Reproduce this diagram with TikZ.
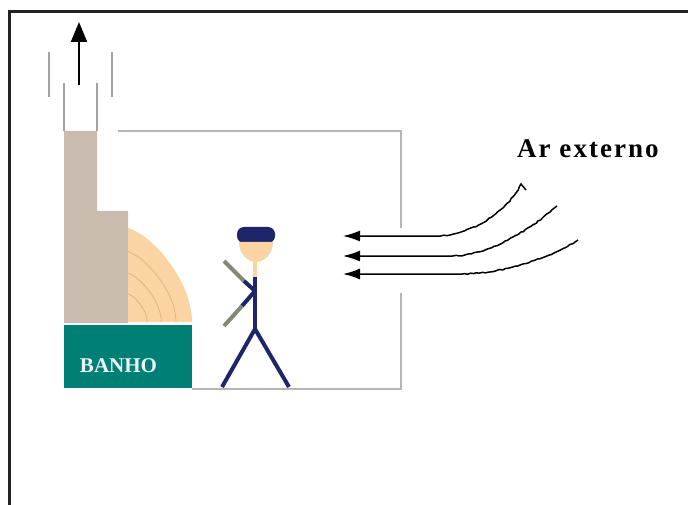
\documentclass[tikz,border=0pt]{standalone}
\usepackage{fontspec}
\setmainfont{Liberation Serif}
\newfontfamily\widefont[LetterSpace=7.5]{Liberation Serif}
\usetikzlibrary{arrows.meta,decorations.pathmorphing}

\definecolor{framec}{RGB}{35,35,35}
\definecolor{wallc}{RGB}{201,188,175}
\definecolor{firec}{RGB}{250,212,162}
\definecolor{firearc}{RGB}{228,178,120}
\definecolor{bathc}{RGB}{0,128,116}
\definecolor{navyc}{RGB}{30,38,105}
\definecolor{armc}{RGB}{128,138,118}
\definecolor{linec}{RGB}{185,180,178}

\tikzset{
  framestroke/.style={draw=framec, line width=3},
  thinline/.style={draw=linec, line width=1.3},
  chimline/.style={draw=linec!90!black, line width=1.5},
  limb/.style={line width=4},
  airflow/.style={draw=black, line width=1.5, -{Latex[length=17pt,width=11pt]}},
  jag/.style={decoration={random steps, segment length=3, amplitude=0.6}},
}

\begin{document}
\begin{tikzpicture}[x=1pt, y=-1pt]
\useasboundingbox (0,0) rectangle (688,505);
\fill[white] (0,0) rectangle (688,505);

% outer frame (top and left edges)
\draw[framestroke] (9,505) -- (9,12) -- (688,12);

% chimney outline and rising smoke arrow
\draw[chimline] (49,52) -- (49,97);
\draw[chimline] (112,52) -- (112,97);
\draw[chimline] (64,83) -- (64,131);
\draw[chimline] (97,83) -- (97,131);
\coordinate (smokeS) at (79,85);
\coordinate (smokeE) at (79,22);
\draw[line width=2, -{Triangle[length=20pt,width=16pt]}] (smokeS) -- (smokeE);

% masonry stove body
\fill[wallc] (64,131) -- (97,131) -- (97,211) -- (128,211) -- (128,323) -- (64,323) -- cycle;

% fire / heat zone
\fill[firec] (128,228) .. controls (154,236) and (192,282) .. (192,322) -- (128,322) -- cycle;
\foreach \s in {0.75,0.52,0.3}{
  \draw[firearc, line width=0.7] (128,{322-94*\s}) .. controls ({128+24*\s},{322-86*\s}) and ({128+64*\s},{322-40*\s}) .. ({128+64*\s},322);
}

% bath
\fill[bathc] (64,325) rectangle (192,388);
\node[text=white!92!bathc, font=\fontsize{21}{25}\selectfont\bfseries, anchor=base, inner sep=0] (banho) at (118.5,372) {BANHO};

% room walls
\draw[thinline] (118,131) -- (401,131) -- (401,228);
\draw[thinline] (401,293) -- (401,389) -- (192,389);

% person
\fill[navyc, rounded corners=7] (237,227) rectangle (275,243);
\fill[firec] (239,242) -- (273,242) .. controls (273,256) and (262,262) .. (256,262) .. controls (250,262) and (239,256) .. (239,242) -- cycle;
\draw[firec, limb] (255,260) -- (255,279);
\draw[navyc, limb] (255,277) -- (255,331);
\draw[navyc, limb, line join=round] (222,387) -- (255,329) -- (289,387);
\draw[armc, limb] (224,261) -- (244,281);
\draw[navyc, limb, line join=round] (244,281) -- (255,291) -- (242,306);
\draw[armc, limb] (242,306) -- (224,326);

% outside air streams
\coordinate (airA0) at (526,190);
\coordinate (airA1) at (521,184);
\coordinate (airA2) at (440,236);
\coordinate (airA3) at (343,236);
\draw[airflow] (airA0) -- (airA1) decorate[jag]{ .. controls (505,215) and (470,234) .. (airA2)} -- (airA3);

\coordinate (airB1) at (557,206);
\coordinate (airB2) at (452,256);
\coordinate (airB3) at (343,256);
\draw[airflow] (airB1) decorate[jag]{ .. controls (530,230) and (490,255) .. (airB2)} -- (airB3);

\coordinate (airC1) at (578,240);
\coordinate (airC2) at (462,274);
\coordinate (airC3) at (343,274);
\draw[airflow] (airC1) decorate[jag]{ .. controls (545,260) and (505,273) .. (airC2)} -- (airC3);

\node[font=\widefont\fontsize{27}{32}\selectfont\bfseries, anchor=base west, inner sep=0] (arlabel) at (517,158) {Ar externo};
\end{tikzpicture}
\end{document}
